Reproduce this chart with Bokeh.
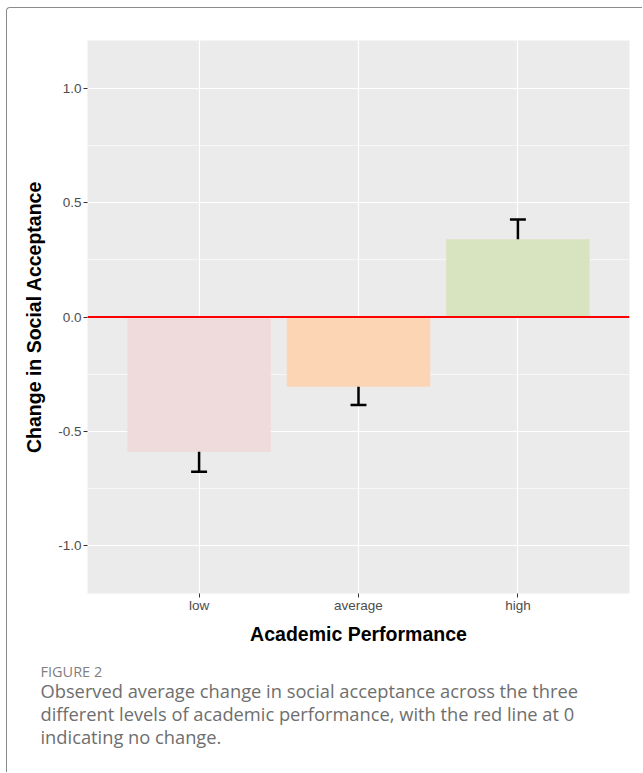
from bokeh.plotting import figure
from bokeh.models import (ColumnDataSource, FactorRange, Range1d, FixedTicker, Span, Title,
                          CustomJSTickFormatter, InlineStyleSheet)
from bokeh.transform import dodge
from bokeh.embed import file_html
from bokeh.resources import INLINE

# ---- data ----
categories = ["low", "average", "high"]
means = [-0.59, -0.305, 0.34]
se = [0.087, 0.08, 0.087]
bar_colors = ["#EFDBDB", "#FCD5B5", "#D8E3BF"]
y_ticks = [-1.0, -0.5, 0.0, 0.5, 1.0]
y_minor = [-0.75, -0.25, 0.25, 0.75]
x_title = "Academic Performance"
y_title = "Change in Social Acceptance"
fig_label = "FIGURE 2"
caption_lines = [
    "Observed average change in social acceptance across the three",
    "different levels of academic performance, with the red line at 0",
    "indicating no change.",
]

lower = [m - s for m, s in zip(means, se)]
upper = [m + s for m, s in zip(means, se)]
src = ColumnDataSource(dict(cat=categories, mean=means, lower=lower, upper=upper, color=bar_colors))

p = figure(width=642, height=772, output_backend="svg", toolbar_location=None,
           x_range=FactorRange(*categories, range_padding=0.2, range_padding_units="absolute"),
           y_range=Range1d(-1.21, 1.21),
           min_border_left=87, min_border_right=13, min_border_top=40, min_border_bottom=179)

p.background_fill_color = "#EBEBEB"
p.border_fill_color = "white"
p.outline_line_color = None

# grid
p.xgrid.grid_line_color = "white"
p.xgrid.grid_line_width = 1.2
p.ygrid.grid_line_color = "white"
p.ygrid.grid_line_width = 1.2
p.ygrid.minor_grid_line_color = "white"
p.ygrid.minor_grid_line_width = 0.6

p.yaxis.ticker = FixedTicker(ticks=y_ticks, minor_ticks=y_minor)
p.yaxis.formatter = CustomJSTickFormatter(code="return tick.toFixed(1);")

for ax in (p.xaxis[0], p.yaxis[0]):
    ax.axis_line_color = None
    ax.major_tick_line_color = "#333333"
    ax.major_tick_out = 4
    ax.major_tick_in = 0
    ax.minor_tick_line_color = None
    ax.major_label_text_font = "Liberation Sans"
    ax.major_label_text_font_size = "13.5px"
    ax.major_label_text_color = "#4D4D4D"
    ax.axis_label_text_font = "Liberation Sans"
    ax.axis_label_text_font_style = "bold"
    ax.axis_label_text_font_size = "19.5px"
    ax.axis_label_text_color = "black"

p.xaxis.axis_label = x_title
p.yaxis.axis_label = y_title
p.yaxis.major_label_standoff = 2
p.xaxis.major_label_standoff = 0
p.yaxis.axis_label_standoff = 10
p.xaxis.axis_label_standoff = 7

# error bars (drawn first so bars cover the inner half)
p.segment(x0="cat", y0="lower", x1="cat", y1="upper", source=src, line_color="black", line_width=2.5)
p.segment(x0=dodge("cat", -0.05, range=p.x_range), y0="upper",
          x1=dodge("cat", 0.05, range=p.x_range), y1="upper", source=src, line_color="black", line_width=2.5)
p.segment(x0=dodge("cat", -0.05, range=p.x_range), y0="lower",
          x1=dodge("cat", 0.05, range=p.x_range), y1="lower", source=src, line_color="black", line_width=2.5)

p.vbar(x="cat", top="mean", bottom=0, width=0.9, source=src, fill_color="color", line_color=None)

p.add_layout(Span(location=0, dimension="width", line_color="#FF0000", line_width=2))

# caption
spacer = Title(text=" ", align="left", text_font="Open Sans", text_font_size="8px", standoff=3)
p.add_layout(spacer, "below")
t0 = Title(text=fig_label, align="left", offset=-47, text_font="Open Sans", text_font_size="14.5px",
           text_font_style="normal", text_color="#7F7F7F", standoff=-7)
p.add_layout(t0, "below")
for line in caption_lines:
    t = Title(text=line, align="left", offset=-47, text_font="Open Sans", text_font_size="18.3px",
              text_font_style="normal", text_color="#6E6E6E", standoff=-4)
    p.add_layout(t, "below")

# outer frame of the figure box: only its left and top edges fall inside the picture
frame_css = InlineStyleSheet(css="""
:host { position: relative; }
:host::after {
  content: "";
  position: absolute;
  left: 6px; top: 7px; right: 0px; bottom: 0px;
  border-left: 1.5px solid #8C8C8C;
  border-top: 1.5px solid #8C8C8C;
  border-top-left-radius: 4px;
  pointer-events: none;
  z-index: 10;
  box-sizing: border-box;
}
""")
p.stylesheets = [frame_css]

open("out.html", "w").write(file_html(p, INLINE))
